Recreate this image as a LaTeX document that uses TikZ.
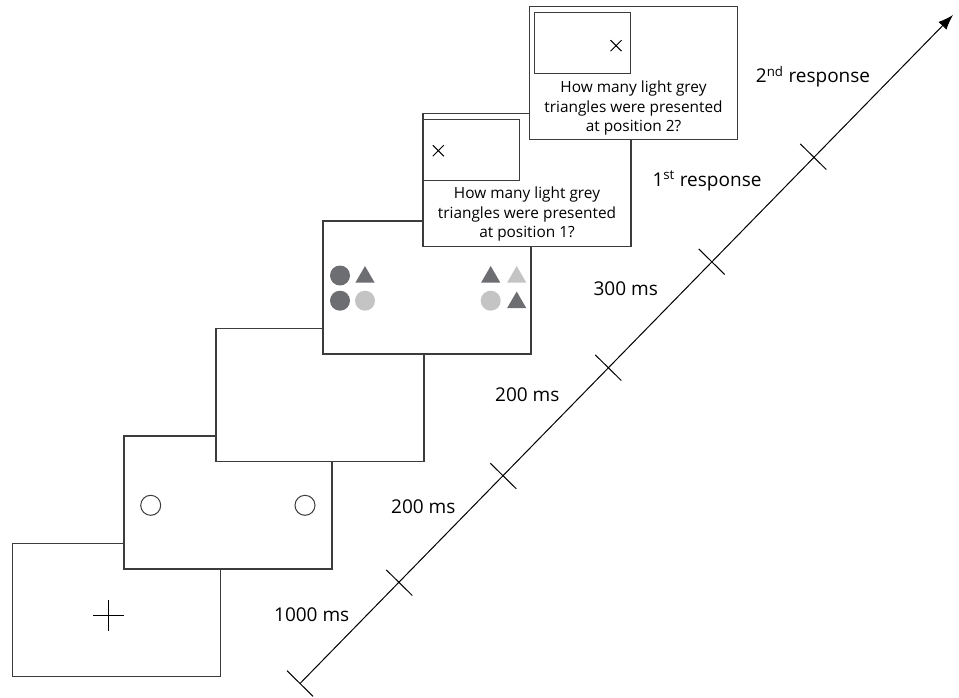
\documentclass[tikz,border=0pt]{standalone}
\usepackage{fontspec}
\setmainfont{Open Sans}
\usetikzlibrary{positioning,arrows.meta,shapes.geometric}

\definecolor{darkshape}{HTML}{6D6E71}
\definecolor{lightshape}{HTML}{C4C4C4}
\definecolor{frame}{HTML}{3C3C3C}

\begin{document}
\begin{tikzpicture}[
  x=1pt, y=-1pt,
  screen/.style={draw=frame, line width=1.2pt, fill=white, minimum width=208pt, minimum height=133pt, inner sep=0pt},
  inner/.style={draw=frame, line width=1.2pt, minimum width=96pt, minimum height=61pt, inner sep=0pt},
  question/.style={align=center, font=\fontsize{15.4}{19.7}\selectfont, inner sep=0pt},
  lbl/.style={font=\fontsize{19}{22}\selectfont, inner sep=0pt},
  dot/.style={circle, minimum size=20pt, inner sep=0pt},
  tri/.style={regular polygon, regular polygon sides=3, minimum size=22pt, inner sep=0pt},
  arr/.style={-{Latex[length=15pt,width=11pt]}, line width=1pt}
]
\useasboundingbox (0,0) rectangle (959,697);

% screens, back to front
\node[screen] (fix) at (116.5,610) {};
\node[screen] (cue) at (228,502.5) {};
\node[screen] (blank) at (320,395) {};
\node[screen] (stim) at (427,287.5) {};
\node[screen] (q1) at (527,180) {};
\node[screen] (q2) at (633.7,73.3) {};

% fixation cross
\coordinate (cross) at (108.7,615);
\draw[line width=1pt] (cross) ++(-15.5,0) -- ++(31,0) (cross) ++(0,-15.5) -- ++(0,31);

% placeholders
\node[circle, draw=frame, line width=1pt, minimum size=20pt] (cueL) at (150.7,505.3) {};
\node[circle, draw=frame, line width=1pt, minimum size=20pt] (cueR) at (305,505.3) {};

% stimulus array
\node[dot, fill=darkshape] (s1) at (340,275.5) {};
\node[tri, fill=darkshape] (s2) at (365,277) {};
\node[dot, fill=darkshape] (s3) at (340,300.7) {};
\node[dot, fill=lightshape] (s4) at (365,300.7) {};
\node[tri, fill=darkshape] (s5) at (490.7,277) {};
\node[tri, fill=lightshape] (s6) at (516.7,277) {};
\node[dot, fill=lightshape] (s7) at (490.7,300.7) {};
\node[tri, fill=darkshape] (s8) at (516.7,302.5) {};

% response screens
\node[inner] (r1) at (471.8,149.7) {};
\node[inner] (r2) at (582.5,43) {};
\draw[line width=1pt] (438.3,150.7) ++(-5.5,-5.5) -- ++(11,11) ++(-11,0) -- ++(11,-11);
\draw[line width=1pt] (616,45.7) ++(-5.5,-5.5) -- ++(11,11) ++(-11,0) -- ++(11,-11);
\node[question] (txt1) at (527,214) {How many light grey\\triangles were presented\\at position 1?};
\node[question] (txt2) at (633.5,108) {How many light grey\\triangles were presented\\at position 2?};

% time axis
\coordinate (t0) at (300,683.5);
\coordinate (t1) at (399.3,582.7);
\coordinate (t2) at (503.3,476);
\coordinate (t3) at (608.3,367.7);
\coordinate (t4) at (711.7,261.7);
\coordinate (t5) at (813.3,156.7);
\coordinate (tend) at (953,15);
\draw[arr] (t0) -- (tend);
\foreach \t in {t0,t1,t2,t3,t4,t5}
  \draw[line width=1pt] (\t) ++(-13,-12.8) -- ++(26,25.6);

\node[lbl] (d1) at (311.7,615) {1000 ms};
\node[lbl] (d2) at (423.3,506.7) {200 ms};
\node[lbl] (d3) at (527.3,395) {200 ms};
\node[lbl] (d4) at (625.7,288.3) {300 ms};
\node[lbl] (d5) at (707,181) {1\textsuperscript{st} response};
\node[lbl] (d6) at (813,77) {2\textsuperscript{nd} response};
\end{tikzpicture}
\end{document}
